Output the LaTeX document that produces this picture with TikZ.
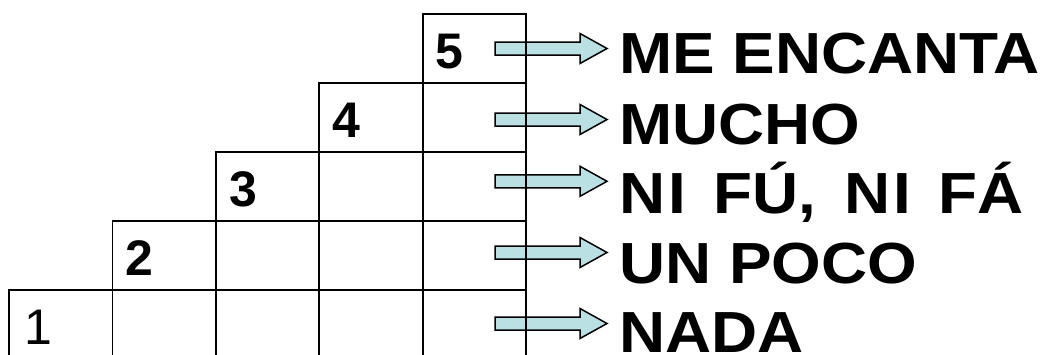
\documentclass[tikz,border=0pt]{standalone}
\usepackage{fontspec}
\setmainfont{Liberation Sans}
\newfontfamily\answerfont[FakeStretch=1.10]{Liberation Sans}
\definecolor{arrowfill}{RGB}{187,224,227}
\begin{document}
\begin{tikzpicture}[x=1pt,y=-1pt,
  cell/.style={draw=black,line width=1.8pt,minimum width=103.4pt,
    minimum height=69pt,inner sep=0pt,outer sep=0pt,anchor=north west},
  digit/.style={font=\fontsize{50}{50}\selectfont,inner sep=0pt,anchor=base west},
  answer/.style={font=\answerfont\bfseries\fontsize{58}{58}\selectfont,
    inner sep=0pt,anchor=base west},
  blockarrow/.style={draw=black,line width=1.5pt,fill=arrowfill,line join=miter}]
\useasboundingbox (0,0) rectangle (1042,354);

% block arrows pointing from the scale to the answers
\foreach \i/\yc in {1/48.5,2/119.5,3/181.3,4/252.5,5/323.5}{
  \coordinate (a\i) at (495,\yc);
  \draw[blockarrow] ([shift={(0,-6.5)}]a\i) -- ([shift={(85,-6.5)}]a\i)
    -- ([shift={(85,-15)}]a\i) -- ([shift={(112,0)}]a\i)
    -- ([shift={(85,15)}]a\i) -- ([shift={(85,6.5)}]a\i)
    -- ([shift={(0,6.5)}]a\i) -- cycle;
}

% staircase of cells, one more cell per row going down
\foreach \r in {1,...,5}{
  \pgfmathtruncatemacro\first{6-\r}
  \foreach \c in {\first,...,5}{
    \node[cell] (c-\r-\c) at ({9+103.4*(\c-1)},{14+69*(\r-1)}) {};
  }
  \ifnum\first=1
    \node[digit] (d\first) at ({9+103.4*(\first-1)+15},{14+69*(\r-1)+54}) {\first};
  \else
    \node[digit,font=\fontsize{50}{50}\selectfont\bfseries] (d\first)
      at ({9+103.4*(\first-1)+13},{14+69*(\r-1)+54.5}) {\first};
  \fi
}

% answer labels
\foreach \i/\yb/\txt in {1/73.3/{ME ENCANTA},2/144/{MUCHO},
    3/213/{N\kern3pt I\hspace{10pt} FÚ,\hspace{10pt} N\kern3pt I\hspace{10pt} FÁ},
    4/283/{UN POCO},5/352/{NADA}}{
  \node[answer] (t\i) at (619,\yb) {\txt};
}
\end{tikzpicture}
\end{document}
